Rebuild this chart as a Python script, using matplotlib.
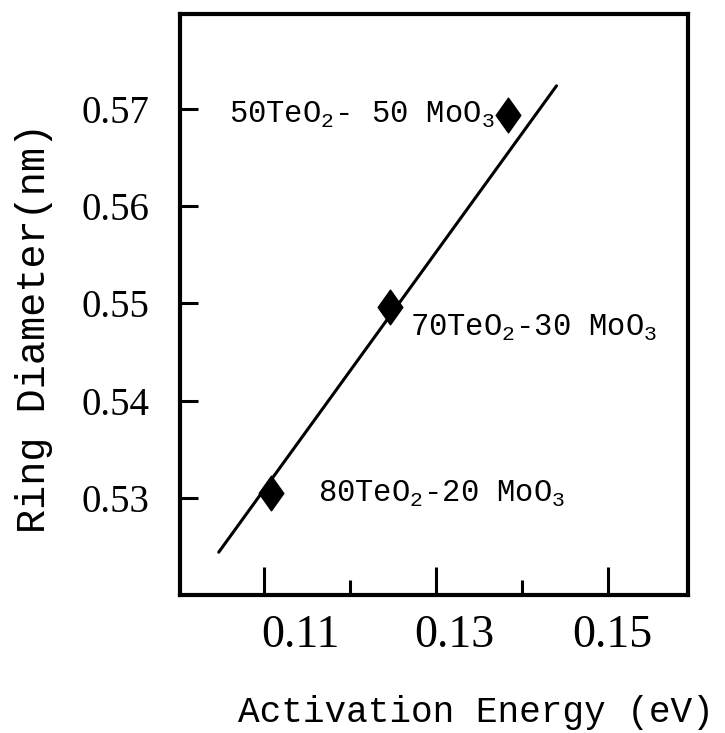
import matplotlib
matplotlib.use("Agg")
import matplotlib.pyplot as plt
from matplotlib.path import Path
from matplotlib.transforms import ScaledTranslation

# measured points: activation energy (eV) vs ring diameter (nm)
energy = [0.1108, 0.1246, 0.1384]
diameter = [0.5305, 0.5496, 0.5694]
compositions = ["80TeO$_2$-20 MoO$_3$",
                "70TeO$_2$-30 MoO$_3$",
                "50TeO$_2$- 50 MoO$_3$"]

# straight line drawn through the data
line_energy = [0.1047, 0.1440]
line_diameter = [0.5244, 0.5724]

xticks_major = [0.11, 0.13, 0.15]
xticks_minor = [0.12, 0.14]
yticks = [0.53, 0.54, 0.55, 0.56, 0.57]

plt.rcParams['mathtext.fontset'] = 'custom'
plt.rcParams['mathtext.rm'] = 'Liberation Mono'

mono = 'Liberation Mono'
serif = 'Liberation Serif'

fig = plt.figure(figsize=(7.25, 7.33), dpi=100)
ax = fig.add_axes([0.2483, 0.1883, 0.949 - 0.2483, 0.981 - 0.1883])

# tall thin diamond marker
diamond = Path([(0, 1), (0.71, 0), (0, -1), (-0.71, 0), (0, 1)],
               [Path.MOVETO, Path.LINETO, Path.LINETO, Path.LINETO, Path.CLOSEPOLY])

ax.plot(line_energy, line_diameter, color='black', lw=2.2, solid_capstyle='round')
ax.plot(energy, diameter, linestyle='none', marker=diamond, markersize=25,
        color='black')

# composition labels next to each point
label_pos = [(0.1163, 0.5296), (0.1270, 0.5467), (0.1059, 0.5686)]
for (lx, ly), txt in zip(label_pos, compositions):
    ax.text(lx, ly, txt, fontsize=22, family=mono, ha='left', va='baseline')

ax.set_xlim(0.1002, 0.1593)
ax.set_ylim(0.520, 0.5798)

ax.set_xticks(xticks_major)
ax.set_xticks(xticks_minor, minor=True)
ax.set_xticklabels(["%.2f" % v for v in xticks_major])
ax.set_yticks(yticks)
ax.set_yticklabels(["%.2f" % v for v in yticks])

ax.tick_params(axis='x', which='major', direction='in', length=20, width=2.2,
               pad=14, labelsize=33)
ax.tick_params(axis='x', which='minor', direction='in', length=11, width=2.2)
ax.tick_params(axis='y', direction='in', length=13, width=2.2, pad=22,
               labelsize=28)

for lab in ax.get_xticklabels() + ax.get_yticklabels():
    lab.set_family(serif)

# nudge the x tick labels to the right as printed
for lab, dx in zip(ax.get_xticklabels(), [36, 18, 4]):
    lab.set_transform(lab.get_transform() +
                      ScaledTranslation(dx / 100, 0, fig.dpi_scale_trans))

for side in ['left', 'bottom', 'top', 'right']:
    ax.spines[side].set_linewidth(3)

ax.set_xlabel("Activation Energy (eV)", family=mono, fontsize=26)
ax.set_ylabel("Ring Diameter(nm)", family=mono, fontsize=29)
ax.xaxis.set_label_coords(0.583, -0.172)
ax.yaxis.set_label_coords(-0.25, 0.46)

fig.savefig("out.png", dpi=100)
